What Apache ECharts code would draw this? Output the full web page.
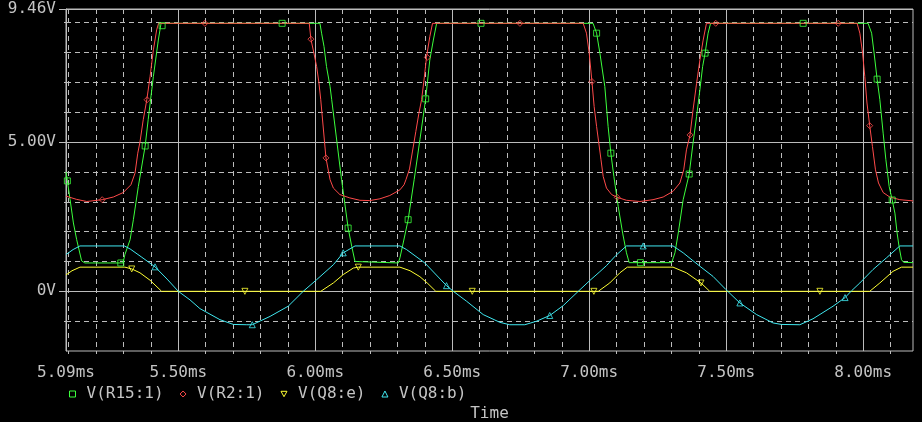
<!DOCTYPE html>
<html><head><meta charset="utf-8">
<script src="https://cdn.jsdelivr.net/npm/echarts@6/dist/echarts.min.js"></script>
<style>html,body{margin:0;padding:0;background:#000;} #c{width:922px;height:422px;}</style>
</head><body><div id="c"></div>
<script>
// ---- data (time in ms, voltage in V) ----
const timeLabelValues = [5.09, 5.5, 6.0, 6.5, 7.0, 7.5, 8.0];
const majorTimeValues = [5.5, 6.0, 6.5, 7.0, 7.5, 8.0];
const gridTimeValues = [5.1,5.2,5.3,5.4,5.6,5.7,5.8,5.9,6.1,6.2,6.3,6.4,6.6,6.7,6.8,6.9,7.1,7.2,7.3,7.4,7.6,7.7,7.8,7.9,8.1];
const voltLabelValues = [0, 5, 9.46];
const gridVoltValues = [-1, 1, 2, 3, 4, 6, 7, 8, 9];
const seriesNames = ['V(R15:1)', 'V(R2:1)', 'V(Q8:e)', 'V(Q8:b)'];

const vR15 = [[5.090,4.00],[5.095,3.70],[5.105,3.07],[5.117,2.29],[5.129,1.73],[5.147,1.02],[5.159,0.95],[5.298,0.95],[5.305,1.23],[5.324,1.73],[5.336,2.40],[5.354,3.51],[5.379,4.87],[5.390,5.75],[5.409,7.20],[5.427,8.42],[5.437,8.98],[6.017,8.98],[6.023,8.65],[6.032,8.20],[6.041,7.53],[6.054,6.86],[6.060,6.42],[6.096,3.74],[6.120,2.12],[6.133,1.51],[6.145,1.00],[6.152,0.95],[6.303,0.95],[6.309,1.12],[6.321,1.62],[6.339,2.40],[6.361,3.74],[6.382,5.08],[6.403,6.45],[6.418,7.75],[6.431,8.42],[6.443,8.98],[7.014,8.98],[7.027,8.65],[7.039,7.98],[7.057,6.86],[7.069,5.52],[7.079,4.63],[7.090,3.85],[7.106,2.84],[7.122,1.95],[7.136,1.29],[7.146,0.96],[7.301,0.96],[7.313,1.29],[7.325,1.95],[7.343,3.07],[7.365,3.93],[7.379,4.97],[7.392,5.86],[7.404,6.75],[7.414,7.53],[7.423,7.98],[7.434,8.65],[7.443,8.98],[8.018,8.98],[8.031,8.65],[8.040,7.98],[8.051,7.11],[8.061,6.42],[8.073,5.30],[8.083,4.41],[8.095,3.51],[8.106,3.06],[8.116,2.62],[8.124,1.95],[8.131,1.51],[8.140,1.06],[8.148,0.97],[8.182,0.96]];

const vR2 = [[5.090,3.19],[5.129,3.08],[5.166,3.01],[5.222,3.07],[5.263,3.16],[5.299,3.31],[5.327,3.57],[5.342,3.96],[5.352,4.63],[5.360,5.00],[5.372,5.75],[5.385,6.42],[5.397,7.20],[5.409,8.09],[5.421,8.76],[5.428,8.98],[5.978,8.98],[5.984,8.45],[5.995,7.98],[6.005,7.53],[6.013,7.01],[6.020,6.42],[6.039,4.47],[6.054,3.74],[6.066,3.46],[6.090,3.24],[6.126,3.13],[6.163,3.05],[6.199,3.04],[6.236,3.10],[6.272,3.21],[6.309,3.40],[6.324,3.57],[6.331,3.74],[6.344,4.10],[6.355,4.70],[6.367,5.35],[6.378,5.95],[6.388,6.42],[6.397,7.08],[6.406,7.84],[6.418,8.53],[6.428,8.98],[6.978,8.98],[6.990,8.65],[7.000,7.98],[7.010,7.03],[7.018,6.19],[7.027,5.52],[7.035,4.97],[7.043,4.41],[7.051,3.85],[7.063,3.46],[7.082,3.24],[7.102,3.15],[7.136,3.05],[7.185,3.01],[7.233,3.07],[7.270,3.16],[7.306,3.35],[7.331,3.63],[7.345,4.07],[7.355,4.74],[7.368,5.24],[7.379,6.08],[7.392,6.97],[7.404,7.75],[7.416,8.42],[7.428,8.98],[7.978,8.98],[7.988,8.65],[7.998,7.98],[8.006,7.20],[8.014,6.31],[8.024,5.55],[8.034,4.85],[8.045,4.07],[8.056,3.63],[8.073,3.31],[8.097,3.16],[8.134,3.07],[8.182,3.03]];

const vQ8e = [[5.090,0.55],[5.112,0.69],[5.141,0.81],[5.305,0.81],[5.330,0.75],[5.360,0.62],[5.397,0.37],[5.439,0.00],[6.020,0.00],[6.066,0.28],[6.102,0.56],[6.139,0.78],[6.157,0.81],[6.309,0.81],[6.346,0.69],[6.382,0.49],[6.411,0.26],[6.440,0.00],[7.033,0.00],[7.075,0.28],[7.112,0.62],[7.139,0.81],[7.306,0.81],[7.355,0.62],[7.408,0.28],[7.440,0.00],[8.024,0.00],[8.061,0.28],[8.109,0.67],[8.140,0.81],[8.182,0.81]];

const vQ8b = [[5.090,1.23],[5.116,1.40],[5.141,1.52],[5.303,1.52],[5.324,1.42],[5.367,1.14],[5.415,0.82],[5.459,0.41],[5.500,0.00],[5.543,-0.29],[5.579,-0.58],[5.652,-0.95],[5.701,-1.11],[5.750,-1.12],[5.770,-1.12],[5.835,-0.84],[5.901,-0.50],[5.956,0.00],[6.005,0.39],[6.066,0.89],[6.102,1.29],[6.145,1.52],[6.309,1.52],[6.333,1.40],[6.400,0.95],[6.479,0.19],[6.504,0.00],[6.552,-0.33],[6.613,-0.78],[6.674,-1.04],[6.710,-1.12],[6.765,-1.12],[6.808,-1.00],[6.856,-0.81],[6.905,-0.48],[6.960,0.00],[7.002,0.36],[7.039,0.66],[7.063,0.86],[7.097,1.20],[7.136,1.52],[7.306,1.52],[7.343,1.29],[7.404,0.84],[7.452,0.50],[7.499,0.06],[7.550,-0.39],[7.611,-0.78],[7.671,-1.06],[7.702,-1.11],[7.769,-1.12],[7.817,-0.92],[7.890,-0.50],[7.934,-0.21],[7.958,0.02],[7.988,0.28],[8.036,0.73],[8.085,1.12],[8.134,1.52],[8.182,1.52]];

const mR15 = [[5.095,3.70],[5.290,0.95],[5.379,4.87],[5.441,8.90],[5.879,8.98],[6.120,2.12],[6.339,2.40],[6.403,6.45],[6.605,8.98],[7.027,8.65],[7.079,4.63],[7.187,0.96],[7.365,3.93],[7.423,7.98],[7.781,8.98],[8.051,7.11],[8.106,3.06]];
const mR2 = [[5.222,3.07],[5.386,6.42],[5.597,8.98],[5.984,8.45],[6.039,4.47],[6.409,7.84],[6.747,8.98],[7.010,7.03],[7.102,3.15],[7.368,5.24],[7.462,8.98],[7.909,8.98],[8.024,5.55]];
const mQ8e = [[5.330,0.75],[5.743,0.00],[6.157,0.81],[6.573,0.00],[7.017,0.00],[7.408,0.28],[7.842,0.00]];
const mQ8b = [[5.415,0.82],[5.770,-1.12],[6.102,1.29],[6.479,0.19],[6.856,-0.81],[7.197,1.52],[7.550,-0.39],[7.934,-0.21]];

// ---- style ----
const FONT = '"DejaVu Sans Mono", "Liberation Mono", monospace';
const GRID = '#bcbcbc';
const TEXT = '#c4c4c4';
const COLORS = ['#3cff3c', '#ff4a4a', '#ffff33', '#40e8f0'];
const TRI_DOWN = 'path://M0,0L10,0L5,9Z';
const SYMBOLS = ['rect', 'diamond', TRI_DOWN, 'triangle'];
const lineData = [vR15, vR2, vQ8e, vQ8b];
const markData = [mR15, mR2, mQ8e, mQ8b];

const series = [];
seriesNames.forEach((n, i) => {
  series.push({
    type: 'line', name: n, data: lineData[i], showSymbol: false, symbol: 'none',
    lineStyle: { color: COLORS[i], width: 1 }, itemStyle: { color: COLORS[i] },
    silent: true, z: 2 + i * 0.1
  });
});
seriesNames.forEach((n, i) => {
  series.push({
    type: 'scatter', name: n + ' markers', data: markData[i], symbol: SYMBOLS[i], symbolSize: 6,
    itemStyle: { color: 'transparent', borderColor: COLORS[i], borderWidth: 1 },
    silent: true, z: 5
  });
});

const chart = echarts.init(document.getElementById('c'), null, { renderer: 'canvas' });
chart.setOption({
  animation: false,
  backgroundColor: '#000',
  textStyle: { fontFamily: FONT },
  grid: { left: 66, top: 9, width: 847, height: 342, show: true, borderColor: GRID, borderWidth: 1,
          backgroundColor: 'transparent', containLabel: false, outerBoundsMode: 'none' },
  legend: {
    left: 69, top: 386, padding: 0, itemWidth: 6, itemHeight: 6, itemGap: 16, selectedMode: false,
    textStyle: { color: TEXT, fontFamily: FONT, fontSize: 16, padding: [0, 0, 0, 6] },
    data: seriesNames.map((n, i) => ({
      name: n, icon: SYMBOLS[i],
      itemStyle: { color: 'transparent', borderColor: COLORS[i], borderWidth: 1 }
    }))
  },
  xAxis: [{
    type: 'value', min: 5.09, max: 8.182, position: 'bottom',
    axisLine: { show: true, lineStyle: { color: GRID, width: 1 } },
    axisTick: { show: true, customValues: majorTimeValues, length: 6, lineStyle: { color: GRID } },
    axisLabel: { customValues: timeLabelValues, formatter: v => v.toFixed(2) + 'ms',
                 color: TEXT, fontFamily: FONT, fontSize: 16, margin: 14 },
    splitLine: { show: true, lineStyle: { color: GRID, width: 1, type: 'solid' } },
    name: 'Time', nameLocation: 'middle', nameGap: 55,
    nameTextStyle: { color: TEXT, fontFamily: FONT, fontSize: 16 }
  }, {
    type: 'value', min: 5.09, max: 8.182, position: 'top', offset: -342,
    axisLine: { show: false },
    axisTick: { show: true, inside: true, customValues: gridTimeValues, length: 3, lineStyle: { color: GRID } },
    axisLabel: { show: false },
    splitLine: { show: true, lineStyle: { color: GRID, width: 1, type: [5, 4] } }
  }],
  yAxis: [{
    type: 'value', min: -2, max: 9.46, position: 'left',
    axisLine: { show: true, lineStyle: { color: GRID, width: 1 } },
    axisTick: { show: true, customValues: voltLabelValues, length: 7, lineStyle: { color: GRID } },
    axisLabel: { customValues: voltLabelValues, formatter: v => (v === 0 ? '0V' : v.toFixed(2) + 'V'),
                 color: TEXT, fontFamily: FONT, fontSize: 16, margin: 10 },
    splitLine: { show: true, lineStyle: { color: GRID, width: 1, type: 'solid' } }
  }, {
    type: 'value', min: -2, max: 9.46, position: 'right', offset: -847,
    axisLine: { show: false },
    axisTick: { show: true, inside: true, customValues: gridVoltValues, length: 2, lineStyle: { color: GRID } },
    axisLabel: { show: false },
    splitLine: { show: true, lineStyle: { color: GRID, width: 1, type: [5, 4] } }
  }],
  series: series
});
</script></body></html>
